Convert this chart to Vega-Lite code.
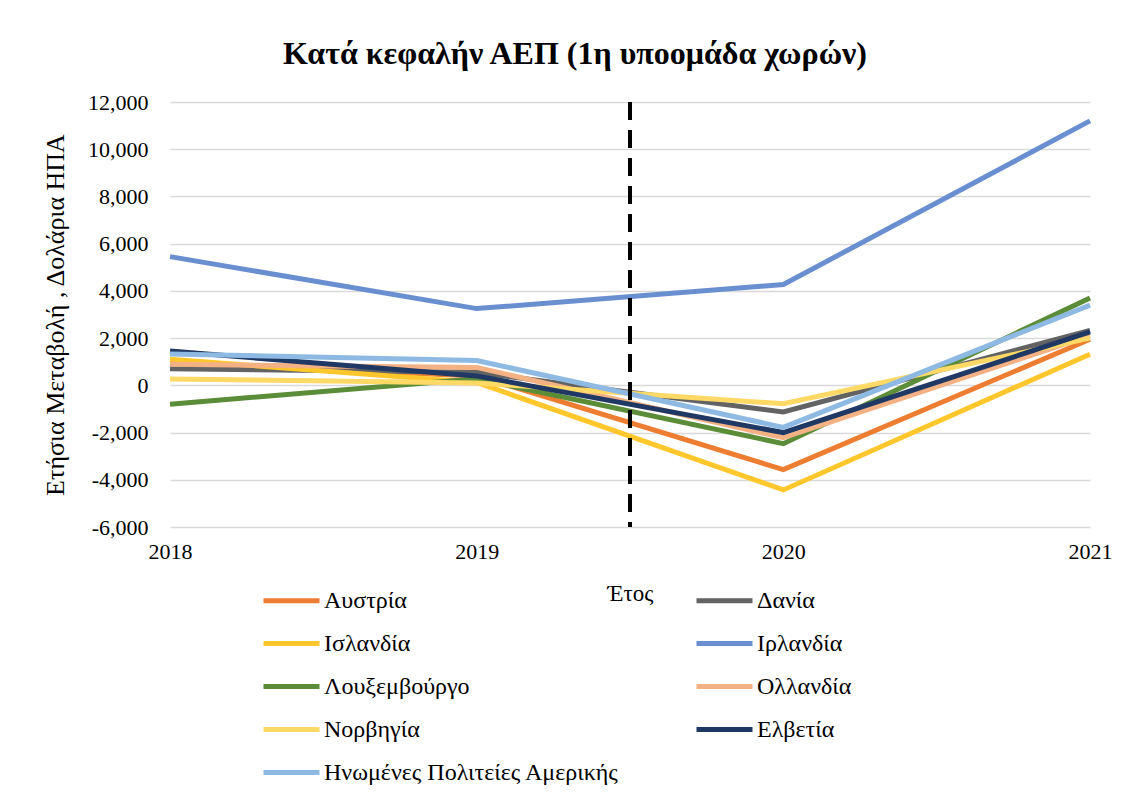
{
  "$schema": "https://vega.github.io/schema/vega-lite/v6.json",
  "width": 920,
  "height": 425,
  "autosize": {"type": "none"},
  "padding": {"left": 170, "top": 102, "right": 41, "bottom": 267},
  "background": "white",
  "config": {
    "font": "Liberation Serif",
    "view": {"stroke": null},
    "locale": {"number": {"decimal": ".", "thousands": ",", "grouping": [3], "currency": ["$", ""], "minus": "-"}}
  },
  "title": {"text": "Κατά κεφαλήν ΑΕΠ (1η υποομάδα χωρών)", "font": "Liberation Serif", "fontSize": 32, "fontWeight": "bold", "color": "black", "anchor": "middle", "dx": -55, "offset": 20},
  "layer": [
    {
      "data": {"values": [
        {"country": "Αυστρία", "year": 2018, "value": 950},
        {"country": "Αυστρία", "year": 2019, "value": 400},
        {"country": "Αυστρία", "year": 2020, "value": -3570},
        {"country": "Αυστρία", "year": 2021, "value": 1950},
        {"country": "Δανία", "year": 2018, "value": 700},
        {"country": "Δανία", "year": 2019, "value": 550},
        {"country": "Δανία", "year": 2020, "value": -1130},
        {"country": "Δανία", "year": 2021, "value": 2330},
        {"country": "Ισλανδία", "year": 2018, "value": 1100},
        {"country": "Ισλανδία", "year": 2019, "value": 120},
        {"country": "Ισλανδία", "year": 2020, "value": -4430},
        {"country": "Ισλανδία", "year": 2021, "value": 1320},
        {"country": "Ιρλανδία", "year": 2018, "value": 5450},
        {"country": "Ιρλανδία", "year": 2019, "value": 3250},
        {"country": "Ιρλανδία", "year": 2020, "value": 4270},
        {"country": "Ιρλανδία", "year": 2021, "value": 11200},
        {"country": "Λουξεμβούργο", "year": 2018, "value": -800},
        {"country": "Λουξεμβούργο", "year": 2019, "value": 280},
        {"country": "Λουξεμβούργο", "year": 2020, "value": -2470},
        {"country": "Λουξεμβούργο", "year": 2021, "value": 3700},
        {"country": "Ολλανδία", "year": 2018, "value": 890},
        {"country": "Ολλανδία", "year": 2019, "value": 760},
        {"country": "Ολλανδία", "year": 2020, "value": -2220},
        {"country": "Ολλανδία", "year": 2021, "value": 2100},
        {"country": "Νορβηγία", "year": 2018, "value": 270},
        {"country": "Νορβηγία", "year": 2019, "value": 100},
        {"country": "Νορβηγία", "year": 2020, "value": -780},
        {"country": "Νορβηγία", "year": 2021, "value": 2000},
        {"country": "Ελβετία", "year": 2018, "value": 1450},
        {"country": "Ελβετία", "year": 2019, "value": 400},
        {"country": "Ελβετία", "year": 2020, "value": -2000},
        {"country": "Ελβετία", "year": 2021, "value": 2260},
        {"country": "Ηνωμένες Πολιτείες Αμερικής", "year": 2018, "value": 1330},
        {"country": "Ηνωμένες Πολιτείες Αμερικής", "year": 2019, "value": 1050},
        {"country": "Ηνωμένες Πολιτείες Αμερικής", "year": 2020, "value": -1780},
        {"country": "Ηνωμένες Πολιτείες Αμερικής", "year": 2021, "value": 3400}
      ]},
      "mark": {"type": "line", "strokeWidth": 5, "strokeCap": "butt", "strokeJoin": "miter"},
      "encoding": {
        "x": {"field": "year", "type": "quantitative",
          "scale": {"domain": [2018, 2021], "nice": false, "zero": false},
          "axis": {"values": [2018, 2019, 2020, 2021], "format": "d", "title": "Έτος", "grid": false, "domain": false, "ticks": false, "labelFlush": false, "labelFontSize": 22, "labelPadding": 14, "labelColor": "black", "labelFont": "Liberation Serif", "titleFont": "Liberation Serif", "titleFontSize": 23, "titleFontWeight": "normal", "titleColor": "black", "titlePadding": 20}},
        "y": {"field": "value", "type": "quantitative",
          "scale": {"domain": [-6000, 12000], "nice": false, "zero": false},
          "axis": {"values": [-6000, -4000, -2000, 0, 2000, 4000, 6000, 8000, 10000, 12000], "format": ",.0f", "title": "Ετήσια Μεταβολή , Δολάρια ΗΠΑ", "domain": false, "ticks": false, "gridColor": "#D9D9D9", "gridWidth": 1.5, "labelFontSize": 22, "labelPadding": 22, "labelColor": "black", "labelFont": "Liberation Serif", "titleFont": "Liberation Serif", "titleFontSize": 26, "titleFontWeight": "normal", "titleColor": "black", "titlePadding": 19}},
        "color": {"field": "country", "type": "nominal",
          "scale": {
            "domain": ["Αυστρία", "Δανία", "Ισλανδία", "Ιρλανδία", "Λουξεμβούργο", "Ολλανδία", "Νορβηγία", "Ελβετία", "Ηνωμένες Πολιτείες Αμερικής"],
            "range": ["#ED7D31", "#636363", "#FFC72C", "#6A8FD1", "#5B8C38", "#F4B183", "#FFD966", "#203864", "#8DB9E2"]},
          "legend": {"title": null, "orient": "none", "direction": "horizontal", "legendX": 91, "legendY": 468, "columns": 2, "columnPadding": 66, "rowPadding": -2, "symbolType": "stroke", "symbolSize": 3136, "symbolStrokeWidth": 5, "labelFontSize": 24, "labelFont": "Liberation Serif", "labelColor": "black", "labelOffset": 2, "labelLimit": 600, "padding": 0}}
      }
    },
    {
      "data": {"values": [{"year": 2019.5}]},
      "mark": {"type": "rule", "strokeDash": [18, 10], "strokeWidth": 4, "color": "black"},
      "encoding": {"x": {"field": "year", "type": "quantitative"}}
    }
  ]
}
